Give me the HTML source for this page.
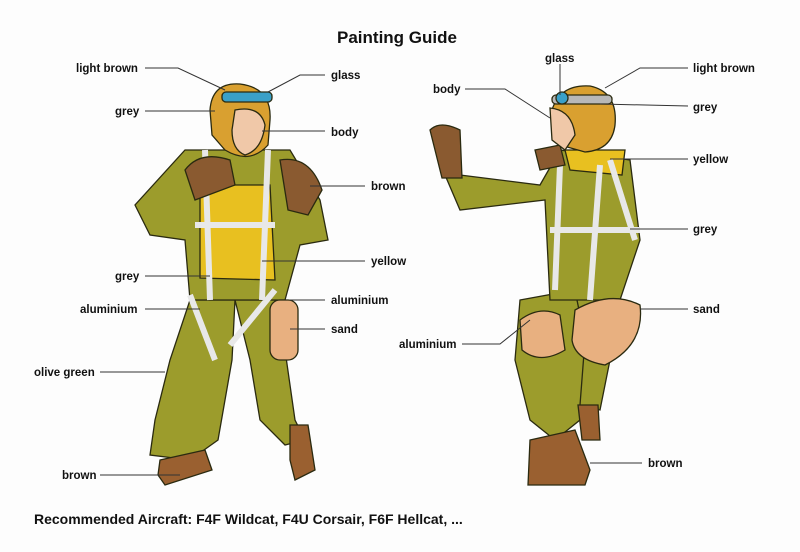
<!DOCTYPE html>
<html><head><meta charset="utf-8"><style>
html,body{margin:0;padding:0;background:#fff}
svg{display:block}
text{font-family:"Liberation Sans",Arial,sans-serif;font-weight:bold;font-size:11.5px;fill:#111}
</style></head><body>
<svg width="800" height="552" viewBox="0 0 800 552" xmlns="http://www.w3.org/2000/svg">
<rect width="800" height="552" fill="#fdfdfd"/>
<text x="397" y="43" text-anchor="middle" style="font-size:17px">Painting Guide</text>

<!-- LEFT FIGURE -->
<g stroke="#2a2a10" stroke-width="1.3">
 <!-- legs -->
 <path d="M190 300 L235 300 L232 360 L218 440 L190 460 L150 455 L155 420 L170 360 Z" fill="#9c9c2c"/>
 <path d="M235 300 L275 300 L285 350 L295 420 L305 440 L285 445 L260 420 L250 360 Z" fill="#9c9c2c"/>
 <!-- torso -->
 <path d="M185 150 L290 150 L320 200 L328 240 L300 245 L285 300 L190 300 L185 240 L150 235 L135 205 Z" fill="#9c9c2c"/>
 <!-- yellow vest -->
 <path d="M200 185 L270 185 L275 280 L200 278 Z" fill="#e8c020"/>
 <!-- harness -->
 <path d="M205 150 L210 300 M268 150 L262 300 M195 225 L275 225 M190 295 L215 360 M275 290 L230 345" fill="none" stroke="#e8e8e8" stroke-width="6"/>
 <!-- boots -->
 <path d="M160 460 L205 450 L212 470 L165 485 L158 475 Z" fill="#9a6030"/>
 <path d="M290 425 L308 425 L315 470 L295 480 L290 460 Z" fill="#9a6030"/>
 <!-- canteen -->
 <rect x="270" y="300" width="28" height="60" rx="10" fill="#e8b080"/>
 <!-- head -->
 <path d="M210 110 Q212 82 240 84 Q272 88 270 120 L268 145 Q250 165 225 150 L212 135 Z" fill="#d9a030"/>
 <path d="M235 110 Q260 105 265 125 Q262 150 245 155 Q232 150 232 130 Z" fill="#f0c8a8"/>
 <rect x="222" y="92" width="50" height="10" rx="4" fill="#3aa0c8"/>
 <!-- gloves -->
 <path d="M185 170 Q200 150 230 160 L235 185 L195 200 Z" fill="#8a5a30"/>
 <path d="M280 160 Q310 155 322 190 L308 215 L288 210 Z" fill="#8a5a30"/>
</g>

<!-- RIGHT FIGURE -->
<g stroke="#2a2a10" stroke-width="1.3">
 <path d="M520 300 L575 290 L590 360 L580 420 L555 440 L530 420 L515 360 Z" fill="#9c9c2c"/>
 <path d="M575 290 L620 285 L610 360 L600 410 L580 405 L585 340 Z" fill="#9c9c2c"/>
 <path d="M445 175 L460 210 L545 200 L550 300 L620 300 L640 240 L630 160 L560 150 L540 185 L460 175 Z" fill="#9c9c2c"/>
 <path d="M565 150 L625 150 L622 175 L570 170 Z" fill="#e8c020"/>
 <path d="M560 165 L555 290 M600 165 L590 300 M610 160 L635 240 M550 230 L640 230" fill="none" stroke="#e8e8e8" stroke-width="6"/>
 <path d="M430 130 Q440 120 460 130 L462 178 L442 178 Z" fill="#8a5a30"/>
 <path d="M535 150 L560 145 L565 165 L540 170 Z" fill="#8a5a30"/>
 <path d="M552 110 Q560 84 590 86 Q618 92 615 125 Q612 150 585 152 L560 145 Z" fill="#d9a030"/>
 <path d="M550 108 Q572 110 575 135 L565 150 L552 140 Z" fill="#f0c8a8"/>
 <rect x="552" y="95" width="60" height="9" rx="4" fill="#b8b8b8"/>
 <circle cx="562" cy="98" r="6" fill="#3aa0c8"/>
 <path d="M520 320 Q540 305 560 315 L565 350 Q540 365 522 350 Z" fill="#e8b080"/>
 <path d="M575 310 Q610 290 640 305 Q645 345 605 365 Q575 360 572 340 Z" fill="#e8b080"/>
 <path d="M530 440 L575 430 L590 470 L585 485 L528 485 Z" fill="#9a6030"/>
 <path d="M578 405 L598 405 L600 440 L582 440 Z" fill="#9a6030"/>
</g>

<!-- leader lines -->
<g stroke="#333" stroke-width="1" fill="none">
 <path d="M145 68 L178 68 L225 90"/>
 <path d="M325 75 L300 75 L268 92"/>
 <path d="M145 111 L215 111"/>
 <path d="M325 131 L262 131"/>
 <path d="M365 186 L310 186"/>
 <path d="M365 261 L262 261"/>
 <path d="M145 276 L210 276"/>
 <path d="M145 309 L200 309"/>
 <path d="M325 300 L290 300"/>
 <path d="M325 329 L290 329"/>
 <path d="M100 372 L165 372"/>
 <path d="M100 475 L180 475"/>
 <path d="M560 64 L560 95"/>
 <path d="M688 68 L640 68 L605 88"/>
 <path d="M465 89 L505 89 L550 118"/>
 <path d="M688 106 L600 104"/>
 <path d="M688 159 L610 159"/>
 <path d="M688 229 L630 229"/>
 <path d="M688 309 L640 309"/>
 <path d="M462 344 L500 344 L530 320"/>
 <path d="M642 463 L590 463"/>
</g>

<!-- labels -->
<text x="76" y="72">light brown</text>
<text x="331" y="79">glass</text>
<text x="115" y="115">grey</text>
<text x="331" y="136">body</text>
<text x="371" y="190">brown</text>
<text x="371" y="265">yellow</text>
<text x="115" y="280">grey</text>
<text x="80" y="313">aluminium</text>
<text x="331" y="304">aluminium</text>
<text x="331" y="333">sand</text>
<text x="34" y="376">olive green</text>
<text x="62" y="479">brown</text>
<text x="545" y="62">glass</text>
<text x="693" y="72">light brown</text>
<text x="433" y="93">body</text>
<text x="693" y="111">grey</text>
<text x="693" y="163">yellow</text>
<text x="693" y="233">grey</text>
<text x="693" y="313">sand</text>
<text x="399" y="348">aluminium</text>
<text x="648" y="467">brown</text>

<text x="34" y="524" style="font-size:14px">Recommended Aircraft: F4F Wildcat, F4U Corsair, F6F Hellcat, ...</text>
</svg>
</body></html>
